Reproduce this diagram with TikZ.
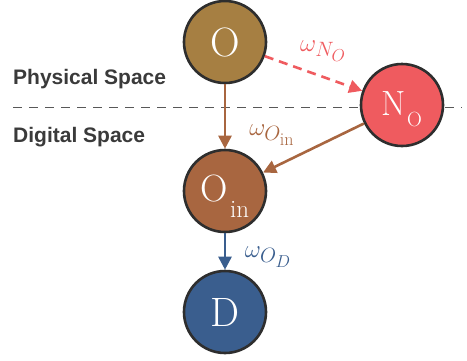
\documentclass[tikz,border=0pt]{standalone}
\usepackage{fontspec}
\newfontfamily\labelfont{Liberation Sans}
\usetikzlibrary{arrows.meta}
\DeclareMathSizes{31}{31}{22}{18}
\definecolor{cO}{HTML}{A67F42}
\definecolor{cN}{HTML}{EF5B5F}
\definecolor{cIn}{HTML}{A86640}
\definecolor{cD}{HTML}{3A5E8E}
\definecolor{cEdge}{HTML}{2E2E2E}
\definecolor{cArrIn}{HTML}{A86640}
\definecolor{cText}{HTML}{3A3A3A}
\newcommand{\fsz}[1]{\fontsize{#1}{#1}\selectfont}
\tikzset{
  statenode/.style={circle, draw=cEdge, line width=2.6pt, minimum size=82pt, inner sep=0pt,
    text=white, font=\fsz{41}},
  conn/.style={line width=2.6pt, -{Triangle[length=13pt,width=13pt]}},
  wlabel/.style={font=\fsz{31}, inner sep=0pt},
  spacelabel/.style={font=\labelfont\bfseries\fsz{21}, text=cText, inner sep=0pt}
}
\begin{document}
\begin{tikzpicture}[x=1pt,y=-1pt]
\useasboundingbox (0,0) rectangle (467,360);
\coordinate (dl) at (13,107);
\coordinate (dr) at (462,107);
\draw[cEdge!80, line width=1pt, dash pattern=on 9pt off 7pt] (dl) -- (dr);
\node[statenode, fill=cO] (O) at (225,42) {O};
\node[statenode, fill=cN, text height=24pt, text depth=4pt] (N) at (402,105)
  {\fsz{35}N\kern1pt\raisebox{-11pt}{\fsz{20.5}O}};
\node[statenode, fill=cIn, text height=26pt, text depth=6pt] (In) at (225,191)
  {\fsz{38}O\kern2pt\raisebox{-16pt}{\fsz{25}in}};
\node[statenode, fill=cD] (D) at (225,312) {D};
\node[spacelabel, anchor=west] (ps) at (13,79) {Physical Space};
\node[spacelabel, anchor=west] (ds) at (13,137) {Digital Space};
\draw[conn, cArrIn] (O) -- (In);
\draw[conn, cArrIn] (N) -- (In);
\draw[conn, cN, dashed, dash pattern=on 9pt off 6pt] (O) -- (N);
\draw[conn, cD] (In) -- (D);
\node[wlabel, text=cN] (wn) at (323,51) {$\omega_{N_O}$};
\node[wlabel, text=cIn] (wi) at (272,135) {$\omega_{O_{\mathrm{in}}}$};
\node[wlabel, text=cD] (wd) at (268,257) {$\omega_{O_D}$};
\end{tikzpicture}
\end{document}
